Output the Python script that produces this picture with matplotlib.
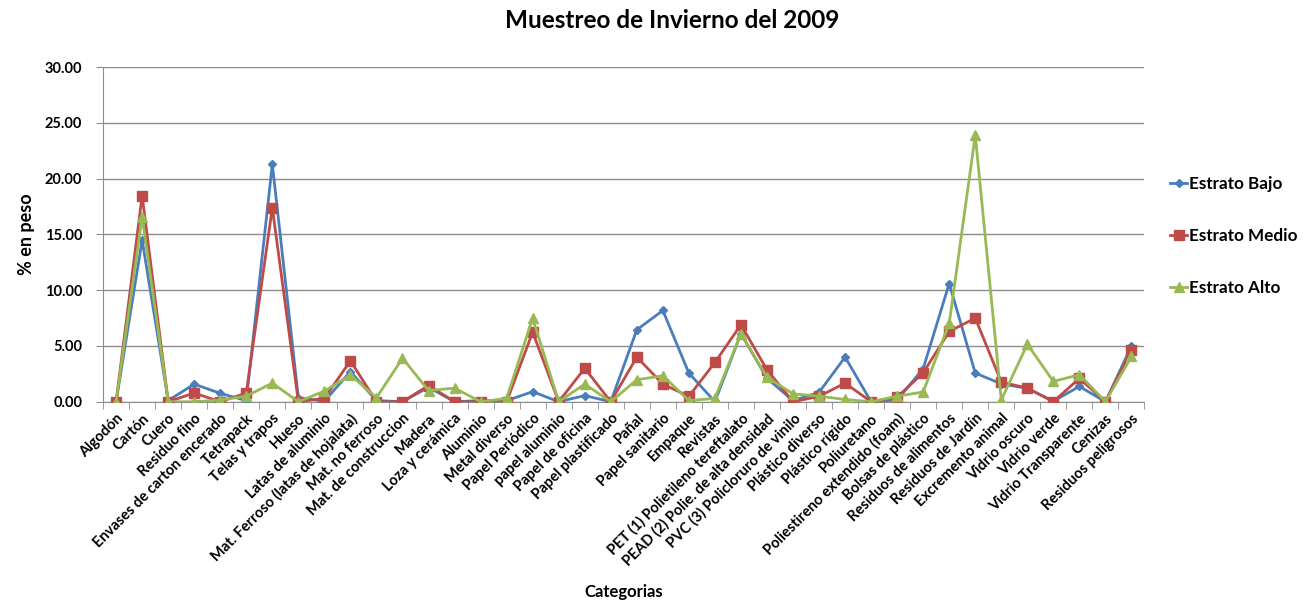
import matplotlib
matplotlib.use("Agg")
import matplotlib.pyplot as plt
import numpy as np

plt.rcParams['font.family'] = ['Lato', 'DejaVu Sans']

categorias = [
    "Algodón", "Cartón", "Cuero", "Residuo fino", "Envases de carton encerado",
    "Tetrapack", "Telas y trapos", "Hueso", "Latas de aluminio",
    "Mat. Ferroso (latas de hojalata)", "Mat. no ferroso", "Mat. de construccion",
    "Madera", "Loza y cerámica", "Aluminio", "Metal diverso", "Papel Periódico",
    "papel aluminio", "Papel de oficina", "Papel plastificado", "Pañal",
    "Papel sanitario", "Empaque", "Revistas", "PET (1) Polietileno tereftalato",
    "PEAD (2) Polie. de alta densidad", "PVC (3) Policloruro de vinilo",
    "Plástico diverso", "Plástico rígido", "Poliuretano",
    "Poliestireno extendido (foam)", "Bolsas de plástico", "Residuos de alimentos",
    "Residuos de Jardín", "Excremento animal", "Vidrio oscuro", "Vidrio verde",
    "Vidrio Transparente", "Cenizas", "Residuos peligrosos",
]

estrato_bajo = [0.0, 14.5, 0.1, 1.58, 0.75, 0.1, 21.3, 0.35, 0.05, 2.7,
                0.1, 0.0, 1.3, 0.0, 0.1, 0.1, 0.9, 0.0, 0.55, 0.0,
                6.45, 8.18, 2.57, 0.0, 6.1, 2.1, 0.1, 0.84, 4.0, 0.0,
                0.15, 2.97, 10.6, 2.57, 1.6, 1.2, 0.05, 1.37, 0.0, 5.0]

estrato_medio = [0.0, 18.47, 0.0, 0.78, 0.0, 0.78, 17.4, 0.0, 0.3, 3.67,
                 0.0, 0.0, 1.45, 0.0, 0.0, 0.0, 6.24, 0.0, 3.0, 0.0,
                 4.0, 1.58, 0.48, 3.52, 6.9, 2.86, 0.0, 0.48, 1.67, 0.0,
                 0.4, 2.6, 6.3, 7.5, 1.76, 1.22, 0.0, 2.1, 0.0, 4.65]

estrato_alto = [0.0, 16.6, 0.0, 0.0, 0.15, 0.5, 1.67, 0.0, 0.95, 2.4,
                0.35, 3.9, 1.0, 1.22, 0.0, 0.3, 7.5, 0.0, 1.58, 0.0,
                1.97, 2.33, 0.1, 0.3, 6.1, 2.2, 0.7, 0.5, 0.2, 0.0,
                0.5, 0.87, 7.04, 23.9, 0.15, 5.16, 1.82, 2.42, 0.0, 4.06]

y_ticks = [0, 5, 10, 15, 20, 25, 30]

fig = plt.figure(figsize=(13.05, 6.05), dpi=100)
ax = fig.add_axes([0.079, 0.336, 0.798, 0.553])

x = np.arange(len(categorias))
ax.plot(x, estrato_bajo, color="#4A7EBB", lw=2, marker="D", ms=4.5,
        label="Estrato Bajo", zorder=3)
ax.plot(x, estrato_medio, color="#BE4B48", lw=2, marker="s", ms=6.5,
        label="Estrato Medio", zorder=4)
ax.plot(x, estrato_alto, color="#98B954", lw=2, marker="^", ms=6.5,
        label="Estrato Alto", zorder=5)

ax.set_xlim(-0.5, len(categorias) - 0.5)
ax.set_ylim(0, 30)
ax.set_yticks(y_ticks)
ax.set_yticklabels([f"{v:.2f}" for v in y_ticks], fontsize=10.5, fontweight="bold")
ax.yaxis.grid(True, color="#8c8c8c", lw=1)
ax.set_axisbelow(True)

ax.set_xticks(x)
ax.set_xticklabels(categorias, rotation=45, ha="right", rotation_mode="anchor",
                   fontsize=10.5, fontweight="bold")
ax.tick_params(axis="x", which="major", length=0, pad=7)
ax.set_xticks(np.arange(-0.5, len(categorias), 1), minor=True)
ax.tick_params(axis="x", which="minor", length=5, color="#8c8c8c")
ax.tick_params(axis="y", length=5, color="#8c8c8c", pad=10)

for s in ["top", "right"]:
    ax.spines[s].set_visible(False)
for s in ["left", "bottom"]:
    ax.spines[s].set_color("#8c8c8c")

ax.set_ylabel("% en peso", fontsize=13, fontweight="bold")
ax.yaxis.set_label_coords(-0.065, 0.5)
ax.set_xlabel("Categorias", fontsize=12, fontweight="bold")
ax.xaxis.set_label_coords(0.5, -0.545)
fig.suptitle("Muestreo de Invierno del 2009", fontsize=17.5, fontweight="bold",
             x=0.515, y=0.985)

ax.legend(loc="center left", bbox_to_anchor=(1.01, 0.495), frameon=False,
          handlelength=1.0, handletextpad=0.1, labelspacing=2.1,
          prop={"weight": "bold", "size": 12.3})

fig.savefig("out.png", dpi=100)
